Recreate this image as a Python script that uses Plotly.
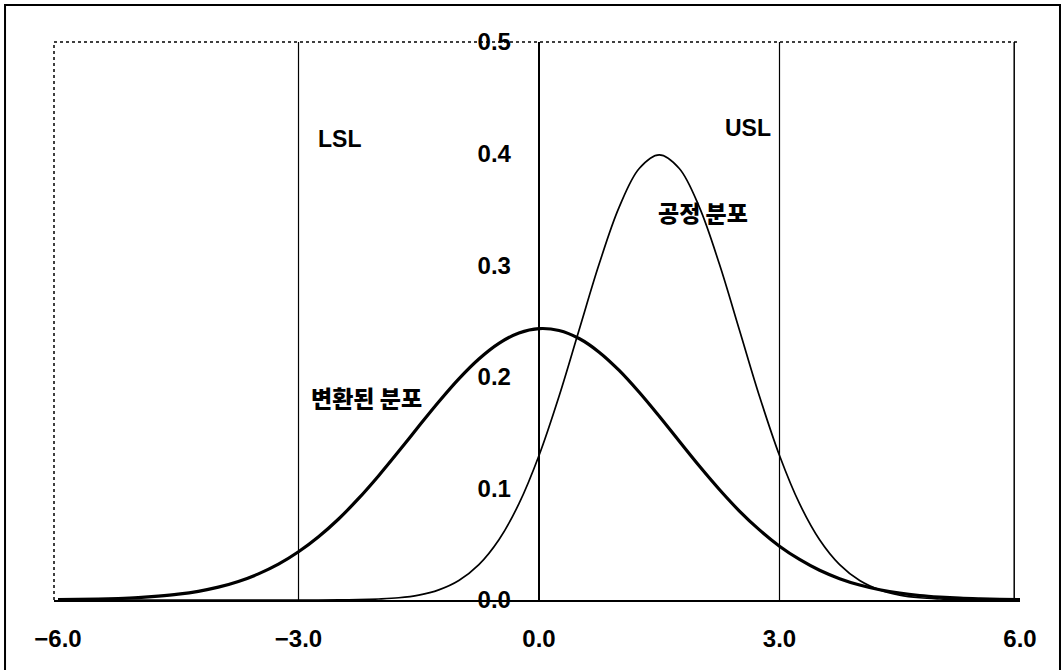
import plotly.graph_objects as go

# x grid (read every 0.25)
x_vals = [-6.0, -5.75, -5.5, -5.25, -5.0, -4.75, -4.5, -4.25, -4.0, -3.75, -3.5, -3.25,
          -3.0, -2.75, -2.5, -2.25, -2.0, -1.75, -1.5, -1.25, -1.0, -0.75, -0.5, -0.25,
          0.0, 0.25, 0.5, 0.75, 1.0, 1.25, 1.5, 1.75, 2.0, 2.25, 2.5, 2.75,
          3.0, 3.25, 3.5, 3.75, 4.0, 4.25, 4.5, 4.75, 5.0, 5.25, 5.5, 5.75, 6.0]

# 공정 분포 (thin curve)
process_y = [0.0, 0.0, 0.0, 0.0, 0.0, 0.0, 0.0, 0.0, 0.0, 0.0, 0.0, 0.0,
             0.0, 0.0, 0.0001, 0.0003, 0.0009, 0.0020, 0.0044, 0.0091, 0.0175, 0.0317, 0.0540, 0.0863,
             0.1295, 0.1826, 0.2420, 0.3011, 0.3521, 0.3867, 0.3989, 0.3867, 0.3521, 0.3011, 0.2420, 0.1826,
             0.1295, 0.0863, 0.0540, 0.0317, 0.0175, 0.0091, 0.0044, 0.0020, 0.0009, 0.0003, 0.0001, 0.0, 0.0]

# 변환된 분포 (thick curve)
transformed_y = [0.0003, 0.0005, 0.0008, 0.0013, 0.0021, 0.0034, 0.0052, 0.0078, 0.0115, 0.0166, 0.0234, 0.0321,
                 0.0432, 0.0567, 0.0726, 0.0910, 0.1114, 0.1332, 0.1557, 0.1777, 0.1982, 0.2160, 0.2300, 0.2393,
                 0.2432, 0.2415, 0.2343, 0.2221, 0.2057, 0.1861, 0.1646, 0.1422, 0.1200, 0.0990, 0.0797, 0.0628,
                 0.0482, 0.0363, 0.0266, 0.0191, 0.0134, 0.0092, 0.0061, 0.0040, 0.0026, 0.0016, 0.0010, 0.0006, 0.0003]

spec_names = ["LSL", "USL"]
spec_x = [-3.0, 3.0]

x_ticks = [-6.0, -3.0, 0.0, 3.0, 6.0]
x_tick_text = ["−6.0", "−3.0", "0.0", "3.0", "6.0"]
y_ticks = [0.0, 0.1, 0.2, 0.3, 0.4, 0.5]
y_tick_text = ["0.0", "0.1", "0.2", "0.3", "0.4", "0.5"]

label_texts = ["LSL", "USL", "공정 분포", "변환된 분포"]
label_x = [-2.49, 2.61, 2.04, -2.15]
label_y = [0.413, 0.423, 0.348, 0.182]

fig = go.Figure()
fig.add_trace(go.Scatter(x=x_vals, y=transformed_y, mode="lines",
                         line=dict(color="black", width=3.2, shape="spline"),
                         showlegend=False, hoverinfo="skip"))
fig.add_trace(go.Scatter(x=x_vals, y=process_y, mode="lines",
                         line=dict(color="black", width=1.7, shape="spline"),
                         showlegend=False, hoverinfo="skip"))

for sx in spec_x:
    fig.add_shape(type="line", xref="x", yref="paper", x0=sx, x1=sx, y0=0, y1=1,
                  line=dict(color="black", width=1.2))

# plot frame: dotted top / left, solid right
fig.add_shape(type="line", xref="paper", yref="paper", x0=0, x1=1, y0=1, y1=1,
              line=dict(color="black", width=1.5, dash="dot"))
fig.add_shape(type="line", xref="paper", yref="paper", x0=0, x1=0, y0=0, y1=1,
              line=dict(color="black", width=1.5, dash="dot"))
fig.add_shape(type="line", xref="paper", yref="paper", x0=0.994, x1=0.994, y0=0, y1=1,
              line=dict(color="black", width=1.5))
# outer frame
fig.add_shape(type="rect", xref="paper", yref="paper", x0=-0.0507, x1=1.0414,
              y0=-0.25, y1=1.0663, line=dict(color="black", width=2))

latin = "Liberation Sans"
korean = "Noto Sans CJK KR"
for t, lx, ly in zip(label_texts, label_x, label_y):
    fam = latin if t.isascii() else korean
    fig.add_annotation(x=lx, y=ly, xref="x", yref="y", text=t, showarrow=False,
                       font=dict(family=fam, size=23, color="black", weight=900))

fig.update_layout(
    width=1064, height=670,
    margin=dict(l=54, r=44, t=42, b=70),
    paper_bgcolor="white", plot_bgcolor="white",
    xaxis=dict(range=[-6.05, 6.0], tickvals=x_ticks, ticktext=x_tick_text,
               showgrid=False, zeroline=True, zerolinecolor="black", zerolinewidth=1.5,
               showline=True, linecolor="black", linewidth=2, ticks="",
               ticklabelstandoff=16,
               tickfont=dict(family=latin, size=24, color="black", weight="bold")),
    yaxis=dict(range=[0, 0.5], tickvals=y_ticks, ticktext=y_tick_text,
               anchor="free", position=0.502, showgrid=False, zeroline=False,
               showline=False, ticks="", ticklabelstandoff=28,
               tickfont=dict(family=latin, size=24, color="black", weight="bold")),
)

fig.write_html("out.html")
